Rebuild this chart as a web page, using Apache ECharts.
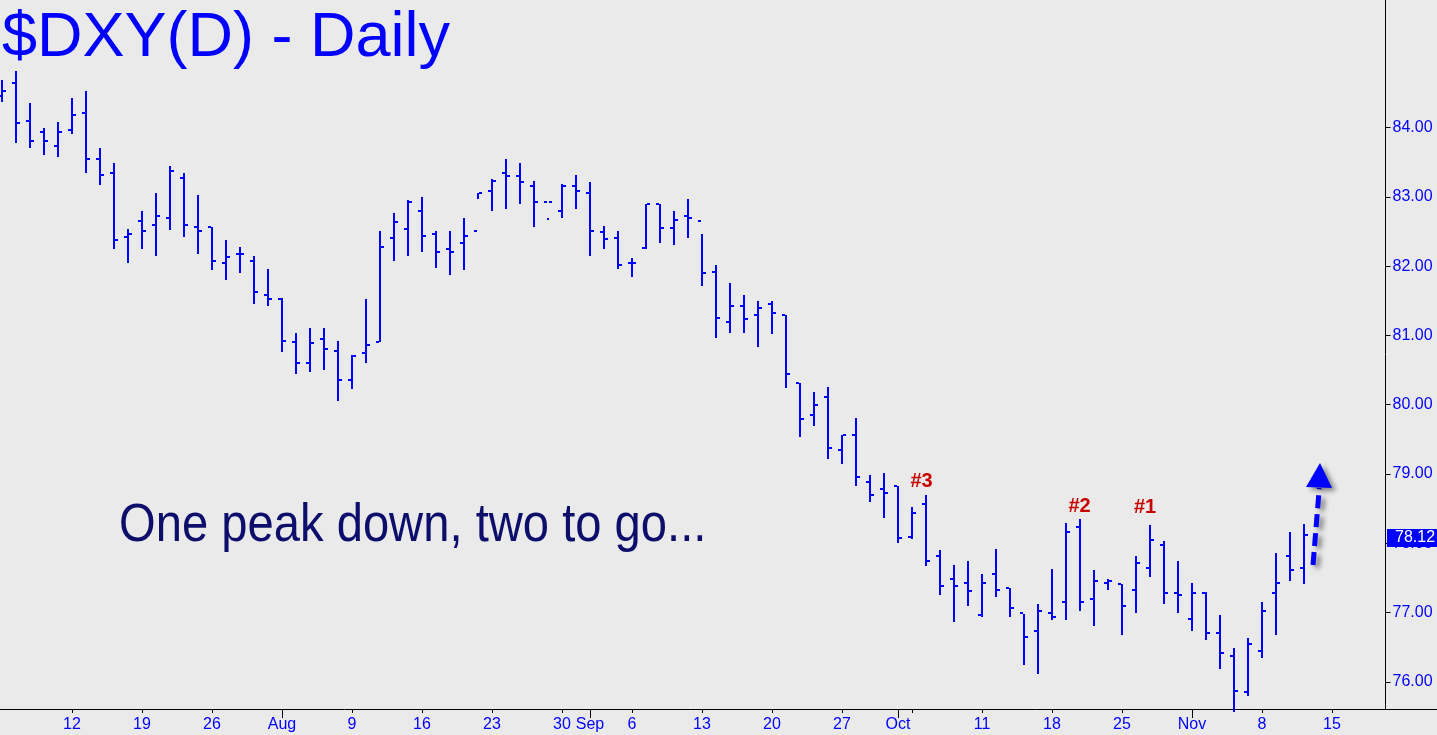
<!DOCTYPE html>
<html>
<head>
<meta charset="utf-8">
<script src="https://cdn.jsdelivr.net/npm/echarts@6/dist/echarts.min.js"></script>
<style>
html,body{margin:0;padding:0;background:#eaeaea;overflow:hidden;}
#chart{width:1437px;height:735px;}
</style>
</head>
<body>
<div id="chart"></div>
<script>
// ---------------- DATA ----------------
const categories = [
'2010-07-05','2010-07-06','2010-07-07','2010-07-08','2010-07-09',
'2010-07-12','2010-07-13','2010-07-14','2010-07-15','2010-07-16',
'2010-07-19','2010-07-20','2010-07-21','2010-07-22','2010-07-23',
'2010-07-26','2010-07-27','2010-07-28','2010-07-29','2010-07-30',
'2010-08-02','2010-08-03','2010-08-04','2010-08-05','2010-08-06',
'2010-08-09','2010-08-10','2010-08-11','2010-08-12','2010-08-13',
'2010-08-16','2010-08-17','2010-08-18','2010-08-19','2010-08-20',
'2010-08-23','2010-08-24','2010-08-25','2010-08-26','2010-08-27',
'2010-08-30','2010-08-31','2010-09-01','2010-09-02','2010-09-03',
'2010-09-06','2010-09-07','2010-09-08','2010-09-09','2010-09-10',
'2010-09-13','2010-09-14','2010-09-15','2010-09-16','2010-09-17',
'2010-09-20','2010-09-21','2010-09-22','2010-09-23','2010-09-24',
'2010-09-27','2010-09-28','2010-09-29','2010-09-30','2010-10-01',
'2010-10-04','2010-10-05','2010-10-06','2010-10-07','2010-10-08',
'2010-10-11','2010-10-12','2010-10-13','2010-10-14','2010-10-15',
'2010-10-18','2010-10-19','2010-10-20','2010-10-21','2010-10-22',
'2010-10-25','2010-10-26','2010-10-27','2010-10-28','2010-10-29',
'2010-11-01','2010-11-02','2010-11-03','2010-11-04','2010-11-05',
'2010-11-08','2010-11-09','2010-11-10','2010-11-11','2010-11-12',
'2010-11-15','2010-11-16','2010-11-17','2010-11-18'
];

// OHLC values, one per trading day from 2010-07-05 to 2010-11-11
const openPrices = [
84.45,84.64,84.09,83.93,83.73, 83.97,84.21,83.54,83.34,82.42,
82.65,82.59,82.69,83.27,82.56, 82.57,82.05,82.17,82.07,81.59,
81.53,80.90,80.60,80.95,80.78, 80.35,80.75,80.91,82.40,82.53,
82.80,82.46,82.24,82.33,82.51, 83.09,83.34,83.30,83.15,82.93,
82.79,83.15,83.06,82.49,82.40, 82.05,82.26,82.90,82.55,82.73,
82.65,81.91,81.20,81.43,81.29, 81.45,81.30,80.31,79.85,80.11,
79.34,79.56,78.89,78.78,78.82, 78.09,78.57,77.81,77.49,77.42,
76.97,77.55,77.35,77.00,76.73, 77.00,77.15,78.23,77.20,77.42,
77.41,77.33,77.65,77.97,77.29, 76.91,77.28,76.70,76.38,75.85,
76.44,77.28,77.81,77.65
];
const highPrices = [
84.69,84.81,84.36,84.00,84.08, 84.43,84.53,83.70,83.49,82.54,
82.80,83.05,83.44,83.34,83.02, 82.57,82.37,82.27,82.14,81.96,
81.54,81.03,81.10,81.11,80.92, 80.72,81.52,82.51,82.77,82.95,
83.00,82.50,82.50,82.70,83.06, 83.26,83.54,83.49,83.23,82.70,
83.18,83.32,83.21,82.58,82.51, 82.12,82.90,82.90,82.80,82.97,
82.47,82.01,81.75,81.59,81.50, 81.49,81.30,80.31,80.18,80.25,
79.56,79.81,78.99,79.01,78.82, 78.52,78.69,77.91,77.68,77.75,
77.55,77.92,77.36,76.98,77.13, 77.63,78.30,78.35,77.61,77.48,
77.41,77.81,78.27,78.04,77.75, 77.42,77.30,76.97,76.49,76.64,
77.16,77.86,78.17,78.28
];
const lowPrices = [
84.37,83.78,83.70,83.61,83.57, 83.90,83.34,83.17,82.24,82.04,
82.24,82.14,82.52,82.42,82.18, 81.95,81.80,81.90,81.45,81.42,
80.76,80.44,80.47,80.50,80.05, 80.22,80.60,80.90,82.07,82.14,
82.20,81.97,81.87,81.95,82.97, 82.79,82.82,82.89,82.57,82.68,
82.70,82.83,82.14,82.24,81.96, 81.84,82.24,82.34,82.30,82.40,
81.72,80.96,81.04,81.03,80.83, 81.02,80.24,79.53,79.69,79.21,
79.15,78.82,78.59,78.37,78.00, 78.06,77.67,77.26,76.87,77.10,
76.94,77.22,76.94,76.24,76.11, 76.89,76.89,77.03,76.81,77.33,
76.68,77.00,77.52,77.13,77.00, 76.74,76.61,76.19,75.56,75.79,
76.35,76.68,77.46,77.41
];
const closePrices = [
84.52,84.06,83.80,83.80,83.93, 84.18,83.54,83.31,82.38,82.47,
82.50,82.73,83.37,82.59,82.50, 82.08,82.13,82.17,81.62,81.53,
80.92,80.60,80.89,80.81,80.36, 80.70,80.86,82.27,82.63,82.93,
82.43,82.21,82.21,82.43,83.06, 83.23,83.30,83.21,82.92,82.93,
83.16,83.08,82.50,82.39,82.01, 82.04,82.90,82.55,82.66,82.69,
81.90,81.25,81.43,81.23,81.39, 81.32,80.44,79.79,80.00,79.38,
79.56,78.95,78.69,78.72,78.08, 78.44,77.75,77.39,77.39,77.31,
77.43,77.32,77.07,76.65,77.03, 76.93,78.17,77.16,77.46,77.46,
77.10,77.71,78.05,77.29,77.26, 77.28,76.71,76.41,75.87,76.55,
77.03,77.43,77.62,78.12
];

// X-axis tick labels
const xLabelDates = ['2010-07-12','2010-07-19','2010-07-26','2010-08-02','2010-08-09','2010-08-16','2010-08-23','2010-08-30','2010-09-01','2010-09-06','2010-09-13','2010-09-20','2010-09-27','2010-10-01','2010-10-11','2010-10-18','2010-10-25','2010-11-01','2010-11-08','2010-11-15'];
const xLabelTexts = ['12','19','26','Aug','9','16','23','30','Sep','6','13','20','27','Oct','11','18','25','Nov','8','15'];
const weekTickDates = ['2010-07-12','2010-07-19','2010-07-26','2010-08-09','2010-08-16','2010-08-23','2010-08-30','2010-09-06','2010-09-13','2010-09-20','2010-09-27','2010-10-04','2010-10-11','2010-10-18','2010-10-25','2010-11-08','2010-11-15'];
const monthTickDates = ['2010-08-02','2010-09-01','2010-10-01','2010-11-01'];

// Y-axis tick range
const yTickMin = 75, yTickMax = 84, yTickStep = 1;
const lastPrice = 78.12;

// Texts
const titleText = '$DXY(D) - Daily';
const noteText = 'One peak down, two to go...';
const peakLabels = ['#3', '#2', '#1'];

// ---------------- LAYOUT ----------------
const W = 1437, H = 735;
const FONT = '"Liberation Sans", Arial, Helvetica, sans-serif';
const BLUE = '#0000ff';
const Y84_PX = 127.5, PX_PER_UNIT = 69.3, AXIS_Y = 709;
const yMinA = 84 - (AXIS_Y - Y84_PX) / PX_PER_UNIT;
const yMaxA = 84 + Y84_PX / PX_PER_UNIT;
const gridLeft = -5, gridRight = 56, yAxisOffset = 4.5;

const labelMap = new Map(xLabelDates.map((d, i) => [d, xLabelTexts[i]]));
const weekSet = new Set(weekTickDates);
const monthSet = new Set(monthTickDates);

const ohlc = openPrices.map((o, i) => [categories[i], o, highPrices[i], lowPrices[i], closePrices[i]]);

function renderBar(params, api) {
  const idx = api.value(0);
  const pO = api.coord([idx, api.value(1)]);
  const pH = api.coord([idx, api.value(2)]);
  const pL = api.coord([idx, api.value(3)]);
  const pC = api.coord([idx, api.value(4)]);
  const c = Math.round(pO[0]);
  const yH = Math.round(pH[1]), yL = Math.round(pL[1]);
  const yO = Math.round(pO[1]), yC = Math.round(pC[1]);
  const style = { fill: BLUE };
  return {
    type: 'group',
    children: [
      { type: 'rect', shape: { x: c - 1, y: yH, width: 2, height: Math.max(2, yL - yH) }, style: style },
      { type: 'rect', shape: { x: c - 4, y: yO - 1, width: 3, height: 2 }, style: style },
      { type: 'rect', shape: { x: c + 1, y: yC - 1, width: 3, height: 2 }, style: style }
    ]
  };
}

const chart = echarts.init(document.getElementById('chart'), null, { width: W, height: H, renderer: 'canvas' });

const gridCommon = { left: gridLeft, right: gridRight, containLabel: false, outerBoundsMode: 'none' };

const option = {
  backgroundColor: '#eaeaea',
  animation: false,
  grid: [
    Object.assign({}, gridCommon, { top: 0, bottom: H - AXIS_Y }),
    Object.assign({}, gridCommon, { top: Y84_PX, bottom: H - (Y84_PX + (yTickMax - yTickMin) * PX_PER_UNIT) }),
    Object.assign({}, gridCommon, { top: 0, bottom: H - AXIS_Y })
  ],
  xAxis: [
    {
      gridIndex: 0, type: 'category', data: categories, boundaryGap: true,
      axisLine: { show: true, onZero: false, lineStyle: { color: '#000', width: 1 } },
      axisTick: { show: true, alignWithLabel: true, length: 4, interval: (i, v) => weekSet.has(v), lineStyle: { color: '#000' } },
      axisLabel: { show: true, interval: (i, v) => labelMap.has(v), formatter: (v) => labelMap.get(v) || '', color: BLUE, fontSize: 16, fontFamily: FONT, margin: 8 },
      splitLine: { show: false }
    },
    { gridIndex: 1, type: 'category', data: categories, show: false },
    {
      gridIndex: 2, type: 'category', data: categories, boundaryGap: true,
      axisLine: { show: false, onZero: false },
      axisTick: { show: true, alignWithLabel: true, length: 9, interval: (i, v) => monthSet.has(v), lineStyle: { color: '#000' } },
      axisLabel: { show: false },
      splitLine: { show: false }
    }
  ],
  yAxis: [
    {
      gridIndex: 0, type: 'value', position: 'right', offset: yAxisOffset, min: yMinA, max: yMaxA,
      axisLine: { show: true, onZero: false, lineStyle: { color: '#000', width: 1 } },
      axisTick: { show: false }, axisLabel: { show: false }, splitLine: { show: false }
    },
    {
      gridIndex: 1, type: 'value', position: 'right', offset: yAxisOffset, min: yTickMin, max: yTickMax, interval: yTickStep,
      axisLine: { show: false, onZero: false },
      axisTick: { show: true, length: 5, lineStyle: { color: '#000' } },
      axisLabel: { show: true, color: BLUE, fontSize: 16, fontFamily: FONT, margin: 7, formatter: (v) => v.toFixed(2) },
      splitLine: { show: false }
    },
    { gridIndex: 2, type: 'value', min: yMinA, max: yMaxA, show: false }
  ],
  series: [
    {
      type: 'custom',
      xAxisIndex: 0, yAxisIndex: 0,
      data: ohlc,
      encode: { x: 0, y: [1, 2, 3, 4] },
      renderItem: renderBar,
      clip: false,
      silent: true,
      z: 5
    }
  ],
  graphic: [
    { id: 'axisExt', type: 'line', silent: true, z: 10, shape: { x1: 1381, y1: AXIS_Y + 0.5, x2: W, y2: AXIS_Y + 0.5 }, style: { stroke: '#000', lineWidth: 1 } },
    { id: 'title', type: 'text', silent: true, z: 10, x: 2, y: 39, style: { text: titleText, x: 0, y: 0, fill: BLUE, font: '63px ' + FONT, verticalAlign: 'middle', align: 'left' } },
    { id: 'note', type: 'text', silent: true, z: 10, x: 119, y: 526, scaleX: 0.89, style: { text: noteText, x: 0, y: 0, fill: '#0d0d6b', font: '53px ' + FONT, verticalAlign: 'middle', align: 'left' } },
    { id: 'p3', type: 'text', silent: true, z: 10, style: { text: peakLabels[0], x: 921.5, y: 481, fill: '#c80000', font: 'bold 20px ' + FONT, verticalAlign: 'middle', align: 'center' } },
    { id: 'p2', type: 'text', silent: true, z: 10, style: { text: peakLabels[1], x: 1079.5, y: 506, fill: '#c80000', font: 'bold 20px ' + FONT, verticalAlign: 'middle', align: 'center' } },
    { id: 'p1', type: 'text', silent: true, z: 10, style: { text: peakLabels[2], x: 1145, y: 507.5, fill: '#c80000', font: 'bold 20px ' + FONT, verticalAlign: 'middle', align: 'center' } },
    { id: 'arrowLine', type: 'line', silent: true, z: 10, shape: { x1: 1313, y1: 565, x2: 1319.3, y2: 488 },
      style: { stroke: BLUE, lineWidth: 5, lineDash: [13, 6], lineCap: 'butt', shadowBlur: 5, shadowColor: 'rgba(0,0,0,0.45)', shadowOffsetX: 4, shadowOffsetY: 3 } },
    { id: 'arrowHead', type: 'polygon', silent: true, z: 10, shape: { points: [[1320, 463], [1306, 487], [1332, 488]] },
      style: { fill: BLUE, shadowBlur: 5, shadowColor: 'rgba(0,0,0,0.45)', shadowOffsetX: 4, shadowOffsetY: 3 } }
  ]
};

chart.setOption(option);

// Last-price box on the right axis, positioned through the y scale
const priceY = chart.convertToPixel({ yAxisIndex: 0 }, lastPrice);
const axisX = chart.convertToPixel({ xAxisIndex: 0 }, categories[categories.length - 1]) + 7 + yAxisOffset;
chart.setOption({
  graphic: [
    { id: 'lastBox', type: 'rect', silent: true, z: 20, shape: { x: Math.round(axisX) + 1, y: Math.round(priceY) - 6, width: W - Math.round(axisX) - 1, height: 18 }, style: { fill: BLUE } },
    { id: 'lastText', type: 'text', silent: true, z: 21, style: { text: lastPrice.toFixed(2), x: Math.round(axisX) + 9, y: Math.round(priceY) + 3, fill: '#ffffff', font: '16px ' + FONT, verticalAlign: 'middle', align: 'left' } }
  ]
});
</script>
</body>
</html>
